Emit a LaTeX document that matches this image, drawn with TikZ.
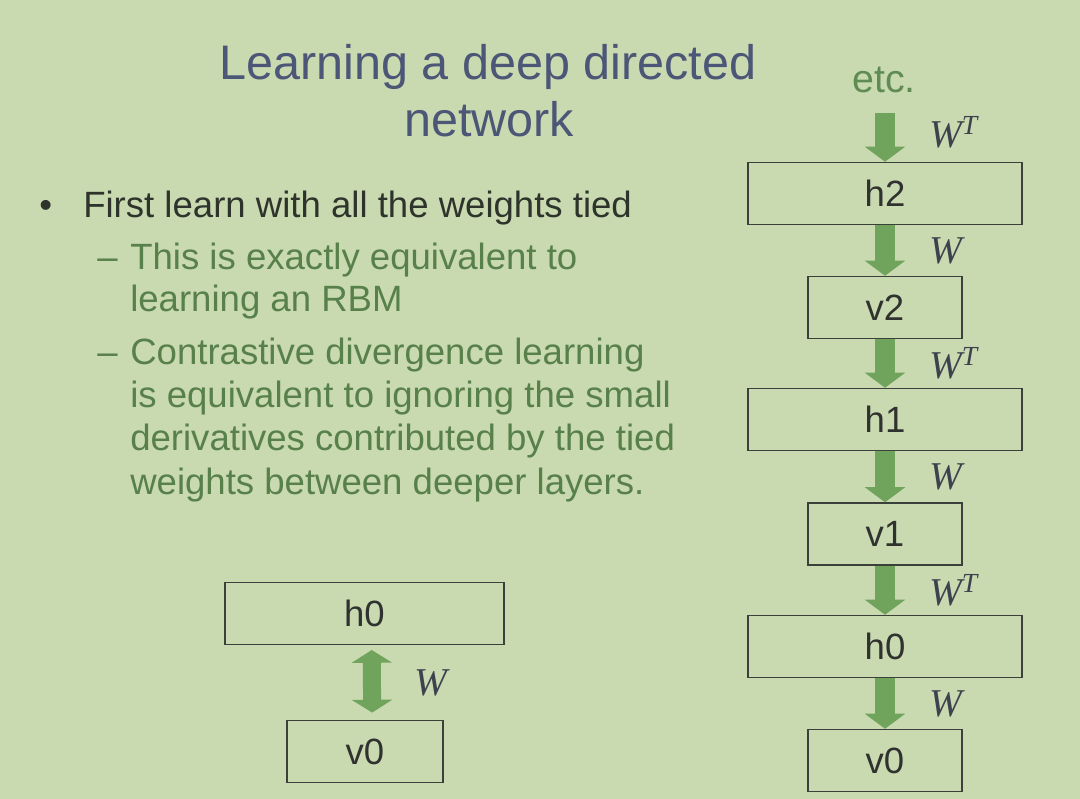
\documentclass[tikz,border=0pt]{standalone}
\usepackage{fontspec}
\setmainfont{Liberation Sans}
\newfontfamily\wfont{Liberation Serif}
\usetikzlibrary{arrows.meta}

\definecolor{slidebg}{RGB}{201,218,176}
\definecolor{titleblue}{RGB}{76,86,118}
\definecolor{bodygray}{RGB}{46,52,44}
\definecolor{subgreen}{RGB}{88,128,74}
\definecolor{etcgreen}{RGB}{96,140,84}
\definecolor{arrowgreen}{RGB}{112,163,92}
\definecolor{boxline}{RGB}{60,64,58}
\definecolor{boxtext}{RGB}{48,50,48}
\definecolor{wgray}{RGB}{62,66,78}

\begin{document}
\begin{tikzpicture}[
    x=0.025cm, y=-0.025cm,
    font=\fontsize{26}{31}\selectfont,
    layer/.style={draw=boxline, line width=1pt, minimum height=1.55cm, inner sep=0pt, text=boxtext},
    widelayer/.style={layer, minimum width=6.85cm},
    slimlayer/.style={layer, minimum width=3.85cm},
    flow/.style={draw=arrowgreen, line width=0.5cm, -{Triangle[length=0.38cm, width=1cm]}},
    tied/.style={draw=arrowgreen, line width=0.45cm, {Triangle[length=0.32cm, width=1cm]}-{Triangle[length=0.32cm, width=1cm]}},
    wlabel/.style={font=\wfont\itshape\fontsize{28}{30}\selectfont, text=wgray, inner sep=0pt, anchor=west, xshift=0.85cm},
    textline/.style={anchor=base west, inner sep=0pt}
]
    % Slide background
    \useasboundingbox (0,0) rectangle (1080,799);
    \fill [slidebg] (0,0) rectangle (1080,799);

    % Title
    \node [textline, anchor=base, text=titleblue, font=\fontsize{34.5}{40}\selectfont] (title1) at (488,80) {Learning a deep directed};
    \node [textline, anchor=base, text=titleblue, font=\fontsize{34.5}{40}\selectfont] (title2) at (489,137) {network};

    % Bullet text
    \node [textline, text=bodygray] (dot) at (39,218) {\textbullet};
    \node [textline, text=bodygray] (first) at (83,218) {First learn with all the weights tied};

    \node [textline, text=subgreen] (dash1) at (97,270) {--};
    \foreach \y/\txt [count=\i] in {270/This is exactly equivalent to, 312/learning an RBM} {
        \node [textline, text=subgreen] (rbm\i) at (130,\y) {\txt};
    }

    \node [textline, text=subgreen] (dash2) at (97,365) {--};
    \foreach \y/\txt [count=\i] in {365/Contrastive divergence learning, 408/is equivalent to ignoring the small, 451/derivatives contributed by the tied, 495/weights between deeper layers.} {
        \node [textline, text=subgreen] (cd\i) at (130,\y) {\txt};
    }

    % Left: the RBM
    \node [layer, minimum width=6.975cm] (h0left) at (364.5,613.5) {h0};
    \node [layer, minimum width=3.9cm] (v0left) at (365,751.5) {v0};
    \draw [tied, shorten <=0.12cm, shorten >=0.18cm] ([xshift=0.18cm]h0left.south) -- ([xshift=0.18cm]v0left.north) node [wlabel, midway] {W};

    % Right: the infinite directed net with tied weights
    \node [textline, anchor=base, text=etcgreen, font=\fontsize{28}{32}\selectfont] (etc) at (884,93) {etc.};
    \coordinate (etcfoot) at (885,113);
    \node [widelayer] (h2) at (885,193.5) {h2};
    \node [slimlayer] (v2) at (885,307.5) {v2};
    \node [widelayer] (h1) at (885,419.5) {h1};
    \node [slimlayer] (v1) at (885,534) {v1};
    \node [widelayer] (h0) at (885,646.5) {h0};
    \node [slimlayer] (v0) at (885,760.5) {v0};

    \draw [flow] (etcfoot) -- (h2) node [wlabel, pos=0.4] {W\textsuperscript{T}};
    \draw [flow] (h2) -- (v2) node [wlabel, midway] {W};
    \draw [flow] (v2) -- (h1) node [wlabel, midway] {W\textsuperscript{T}};
    \draw [flow] (h1) -- (v1) node [wlabel, midway] {W};
    \draw [flow] (v1) -- (h0) node [wlabel, midway] {W\textsuperscript{T}};
    \draw [flow] (h0) -- (v0) node [wlabel, midway] {W};

\end{tikzpicture}
\end{document}
